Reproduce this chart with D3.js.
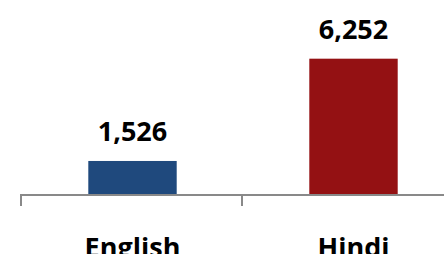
<!DOCTYPE html>
<html><head><meta charset="utf-8">
<script src="https://cdn.jsdelivr.net/npm/d3@7"></script>
<style>
html,body{margin:0;padding:0;background:#fff;overflow:hidden;}
svg{display:block;}
text{font-family:"Open Sans", "Liberation Sans", sans-serif;font-weight:700;fill:#000;}
</style></head>
<body>
<script>
const categories = ["English", "Hindi"];
const values = [1526, 6252];
const colors = ["#1F497D", "#941113"];

const W = 444, H = 254;
const svg = d3.select("body").append("svg").attr("width", W).attr("height", H);

const x = d3.scaleBand().domain(categories).range([21, 463]).padding(0);
const y = d3.scaleLinear().domain([0, 7000]).range([194, 42.5]);
const fmt = d3.format(",");

const barFrac = 0.40;
svg.selectAll("rect.bar").data(categories).enter().append("rect")
  .attr("class", "bar")
  .attr("x", d => x(d) + x.bandwidth() * (1 - barFrac) / 2 + 1)
  .attr("width", x.bandwidth() * barFrac)
  .attr("y", (d, i) => y(values[i]))
  .attr("height", (d, i) => y(0) - y(values[i]))
  .attr("fill", (d, i) => colors[i]);

// axis line and ticks at category boundaries
const g = svg.append("g");
g.append("line").attr("x1", 20).attr("x2", W).attr("y1", y(0) + 1).attr("y2", y(0) + 1)
  .attr("stroke", "#898989").attr("stroke-width", 2);
const bounds = categories.map(c => x(c)).concat([x.range()[1]]);
g.selectAll("line.tick").data(bounds).enter().append("line")
  .attr("class", "tick")
  .attr("x1", d => d).attr("x2", d => d)
  .attr("y1", y(0)).attr("y2", y(0) + 12)
  .attr("stroke", "#898989").attr("stroke-width", 2);

// value labels
svg.selectAll("text.val").data(categories).enter().append("text")
  .attr("class", "val")
  .attr("x", d => x(d) + x.bandwidth() / 2 + 1)
  .attr("y", (d, i) => y(values[i]) - 20)
  .attr("text-anchor", "middle")
  .attr("font-size", 27)
  .text((d, i) => fmt(values[i]));

// category labels
svg.selectAll("text.cat").data(categories).enter().append("text")
  .attr("class", "cat")
  .attr("x", d => x(d) + x.bandwidth() / 2 + 1)
  .attr("y", 257)
  .attr("text-anchor", "middle")
  .attr("font-size", 27)
  .text(d => d);
</script>
</body></html>
